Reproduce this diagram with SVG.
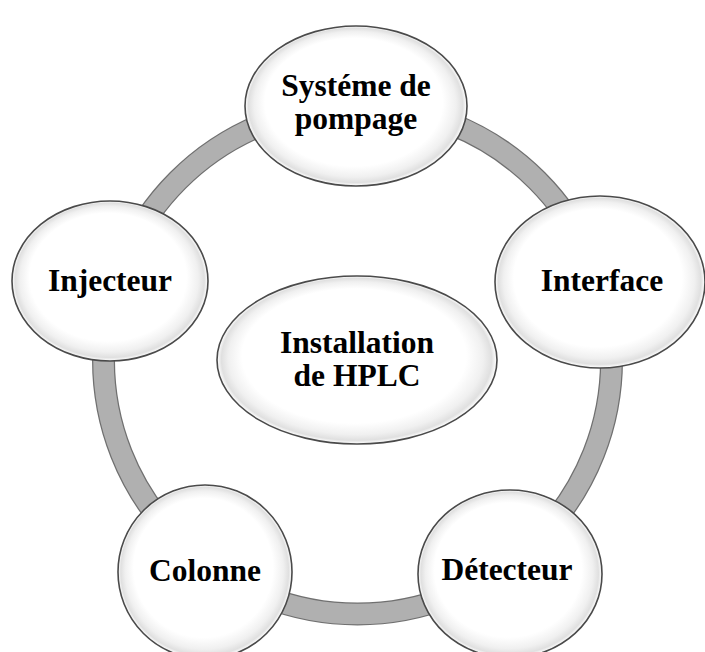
<svg xmlns="http://www.w3.org/2000/svg" width="705" height="652" viewBox="0 0 705 652">
  <defs>
    <radialGradient id="gloss" cx="0.5" cy="0.5" r="0.5" fx="0.45" fy="0.38">
      <stop offset="0" stop-color="#ffffff"/>
      <stop offset="0.8" stop-color="#ffffff"/>
      <stop offset="0.91" stop-color="#f0f0f0"/>
      <stop offset="0.965" stop-color="#e0e0e0"/>
      <stop offset="0.99" stop-color="#f8f8f8"/>
      <stop offset="1" stop-color="#ffffff"/>
    </radialGradient>
  </defs>
  <style>
    .node { fill: url(#gloss); stroke: #4a4a4a; stroke-width: 1.6; }
    .label { font-family: "Liberation Serif", "Times New Roman", serif; font-weight: bold; font-size: 31.5px; fill: #000; text-anchor: middle; }
    .ring-edge { fill: none; stroke: #707070; stroke-width: 23; }
    .ring { fill: none; stroke: #b0b0b0; stroke-width: 20.5; }
  </style>
  <rect width="705" height="652" fill="#ffffff"/>
  <g id="connectors">
    <circle class="ring-edge" cx="357.5" cy="360" r="254"/>
    <circle class="ring" cx="357.5" cy="360" r="254"/>
  </g>
  <g id="node-pompage">
    <ellipse class="node" cx="356" cy="106" rx="111" ry="80"/>
    <text class="label" x="356" y="96">Systéme de</text>
    <text class="label" x="356" y="129">pompage</text>
  </g>
  <g id="node-interface">
    <ellipse class="node" cx="600" cy="282" rx="105" ry="86"/>
    <text class="label" x="602" y="291">Interface</text>
  </g>
  <g id="node-detecteur">
    <ellipse class="node" cx="510" cy="574" rx="92" ry="84"/>
    <text class="label" x="507" y="580">Détecteur</text>
  </g>
  <g id="node-colonne">
    <ellipse class="node" cx="205" cy="572" rx="87" ry="87"/>
    <text class="label" x="205" y="581">Colonne</text>
  </g>
  <g id="node-injecteur">
    <ellipse class="node" cx="110" cy="281" rx="98" ry="80"/>
    <text class="label" x="110" y="291">Injecteur</text>
  </g>
  <g id="node-center">
    <ellipse class="node" cx="357" cy="360" rx="140" ry="84"/>
    <text class="label" x="357" y="353">Installation</text>
    <text class="label" x="357" y="386">de HPLC</text>
  </g>
</svg>
